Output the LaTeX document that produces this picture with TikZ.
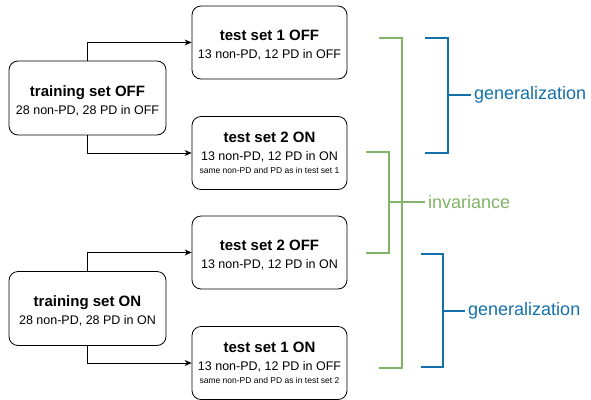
\documentclass[tikz,border=0pt]{standalone}
\usepackage{fontspec}
\setmainfont{Liberation Sans}
\usetikzlibrary{arrows.meta}
\definecolor{invgreen}{RGB}{130,179,102}
\definecolor{genblue}{RGB}{20,112,170}

\begin{document}
\begin{tikzpicture}[x=1pt, y=-1pt,
        setbox/.style={draw, rounded corners=9pt, line width=0.8pt, minimum width=155pt, minimum height=73pt,
            align=center, inner sep=0pt, font=\fontsize{12.5}{18}\selectfont},
        trainbox/.style={setbox, minimum width=157pt, minimum height=74pt},
        feed/.style={draw, line width=0.8pt, -{Stealth[length=7pt, width=6pt]}},
        brack/.style={line width=2pt},
        tag/.style={anchor=west, inner sep=3pt, font=\fontsize{18}{20}\selectfont}]
        \useasboundingbox (0,0) rectangle (591,399);
        % sets
        \node[trainbox] (trOff) at (87.5,98) {\rule{0pt}{16pt}\bfseries\fontsize{15}{18}\selectfont training set OFF\\ 28 non-PD, 28 PD in OFF};
        \node[trainbox] (trOn) at (87.5,308.5) {\rule{0pt}{16pt}\bfseries\fontsize{15}{18}\selectfont training set ON\\ 28 non-PD, 28 PD in ON};
        \node[setbox] (tOneOff) at (269.5,42.5) {\rule{0pt}{16pt}\bfseries\fontsize{15}{18}\selectfont test set 1 OFF\\ 13 non-PD, 12 PD in OFF};
        \node[setbox] (tTwoOn) at (269.5,153) {\bfseries\fontsize{15}{18}\selectfont test set 2 ON\\ 13 non-PD, 12 PD in ON\\[-4.5pt]
            \fontsize{8.5}{10}\selectfont same non-PD and PD as in test set 1};
        \node[setbox] (tTwoOff) at (269.5,252.5) {\rule{0pt}{16pt}\bfseries\fontsize{15}{18}\selectfont test set 2 OFF\\ 13 non-PD, 12 PD in ON};
        \node[setbox] (tOneOn) at (269.5,363) {\bfseries\fontsize{15}{18}\selectfont test set 1 ON\\ 13 non-PD, 12 PD in OFF\\[-4.5pt]
            \fontsize{8.5}{10}\selectfont same non-PD and PD as in test set 2};
        % arrows
        \draw[feed] (trOff.north) |- (tOneOff.west);
        \draw[feed] (trOff.south) |- (tTwoOn.west);
        \draw[feed] (trOn.north) |- (tTwoOff.west);
        \draw[feed] (trOn.south) |- (tOneOn.west);
        % invariance
        \node[tag, text=invgreen] (inv) at (425,202) {invariance};
        \draw[brack, invgreen] (379,38) -- (402,38) -- (402,368) -- (379,368);
        \draw[brack, invgreen] (366,152) -- (389,152) -- (389,253) -- (366,253);
        \draw[brack, invgreen] (389,202) -- (inv.west);
        % generalization
        \node[tag, text=genblue] (genA) at (471,95) {generalization};
        \node[tag, text=genblue] (genB) at (465,311) {generalization};
        \draw[brack, genblue] (425,38) -- (448,38) -- (448,153) -- (425,153);
        \draw[brack, genblue] (448,95) -- (genA.west);
        \draw[brack, genblue] (421,254) -- (443,254) -- (443,367) -- (421,367);
        \draw[brack, genblue] (443,311) -- (genB.west);
    \end{tikzpicture}
\end{document}
